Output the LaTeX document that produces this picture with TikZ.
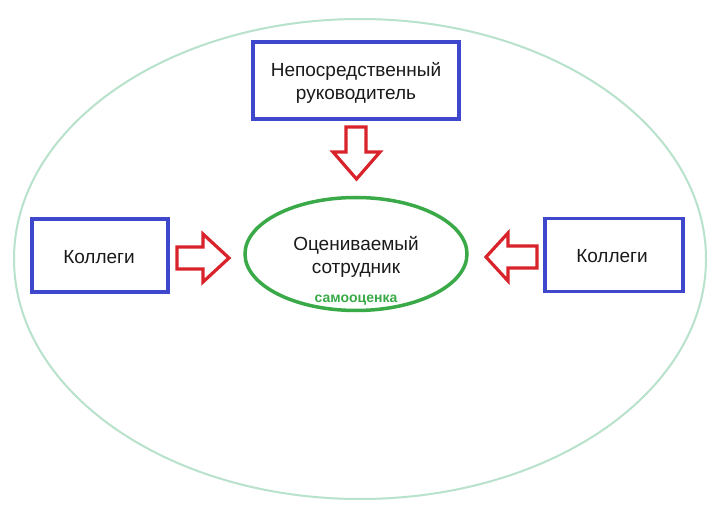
\documentclass[tikz,border=0pt]{standalone}
\usepackage{fontspec}
\setmainfont{Liberation Sans}
\usetikzlibrary{calc,shapes.geometric}
\definecolor{boxblue}{HTML}{3F48CC}
\definecolor{arrred}{HTML}{D8232A}
\definecolor{ellgreen}{HTML}{3AAA48}
\definecolor{outgreen}{HTML}{B8E2CB}
\definecolor{txt}{HTML}{1A1A1A}
\tikzset{
  bluebox/.style={draw=boxblue, line width=3.8pt, fill=white, inner sep=0pt,
    minimum height=73pt},
  lbl/.style={text=txt, font=\fontsize{19}{23}\selectfont, align=center, inner sep=0pt},
  blockarrow/.style={draw=arrred, line width=3.2pt, line join=miter, fill=white},
}
\begin{document}
\begin{tikzpicture}[x=1pt,y=-1pt]
\useasboundingbox (0,0) rectangle (720,521);
\fill[white] (0,0) rectangle (720,521);
% outer ellipse
\draw[outgreen, line width=2pt] (360,259) ellipse [x radius=346, y radius=240];
% boxes
\node[bluebox, minimum width=206pt, minimum height=77pt] (boss) at (356,80.5) {};
\node[lbl] (bosstxt) at (356,82.5) {Непосредственный\\руководитель};
\node[bluebox, minimum width=136pt] (colL) at (100,255.5) {};
\node[lbl] (colLtxt) at (99,257) {Коллеги};
\node[bluebox, minimum width=138pt] (colR) at (614,255) {};
\node[lbl] (colRtxt) at (612,256.5) {Коллеги};
% central ellipse
\node[draw=ellgreen, line width=3.5pt, ellipse, minimum width=222pt, minimum height=113pt,
  inner sep=0pt] (emp) at (356,254) {};
\node[lbl] (emptxt) at (356,257) {Оцениваемый\\сотрудник};
\node[text=ellgreen, font=\fontsize{14}{16}\bfseries\selectfont] (self) at (356,300) {самооценка};
% block arrows
\draw[blockarrow] (346,127) -- (366,127) -- (366,152) -- (380,152) -- (356.5,179)
  -- (333,152) -- (346,152) -- cycle;
\draw[blockarrow] (177,247) -- (203,247) -- (203,234) -- (229,258) -- (203,282)
  -- (203,269) -- (177,269) -- cycle;
\draw[blockarrow] (537,246) -- (508,246) -- (508,233) -- (486,257) -- (508,281)
  -- (508,268) -- (537,268) -- cycle;
\end{tikzpicture}
\end{document}
